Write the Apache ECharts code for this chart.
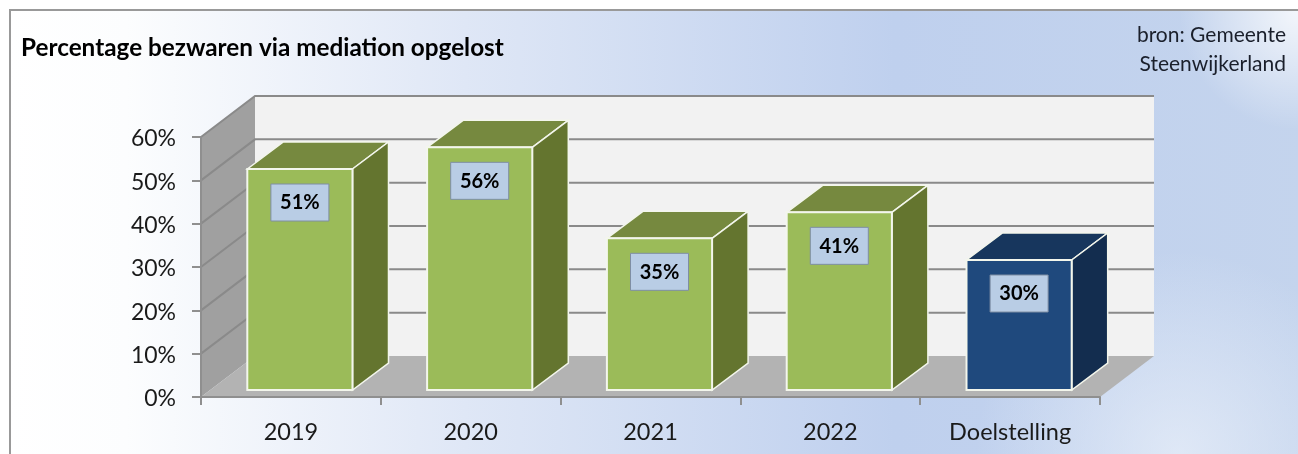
<!DOCTYPE html>
<html>
<head>
<meta charset="utf-8">
<style>html,body{margin:0;padding:0;background:#fff}#chart{width:1298px;height:454px}</style>
<script src="https://cdn.jsdelivr.net/npm/echarts@6/dist/echarts.min.js"></script>
</head>
<body>
<div id="chart"></div>
<script>
var categories = ['2019', '2020', '2021', '2022', 'Doelstelling'];
var values = [51, 56, 35, 41, 30];
var yTicks = [0, 10, 20, 30, 40, 50, 60];
var green = {front: '#9bbb59', side: '#64752f', top: '#76893f'};
var blue = {front: '#1f497d', side: '#132d4f', top: '#17365d'};
var barColors = [green, green, green, green, blue];

var myChart = echarts.init(document.getElementById('chart'));
var font = 'Lato';
var wallDx = 54, wallDy = -41;   // diepte van de wanden
var barDx = 36, barDy = -27;     // diepte van de balken
var barShiftX = 9, barShiftY = -7;

function poly(points, fill, stroke, z2) {
    return {
        type: 'polygon', z2: z2 || 0,
        shape: {points: points},
        style: {fill: fill, stroke: stroke || null, lineWidth: stroke ? 1.5 : 0}
    };
}

function renderWalls(params, api) {
    var cs = params.coordSys;
    var l = cs.x, r = cs.x + cs.width;
    var y = api.coord([0, api.value(1)])[1];
    var children = [];
    if (params.dataIndex === 0) {
        var t = cs.y, b = cs.y + cs.height;
        children.push(poly([[l + wallDx, t + wallDy], [r + wallDx, t + wallDy], [r + wallDx, b + wallDy], [l + wallDx, b + wallDy]], '#f2f2f2'));
        children.push(poly([[l, t], [l + wallDx, t + wallDy], [l + wallDx, b + wallDy], [l, b]], '#a0a0a0'));
        children.push(poly([[l, b], [l + wallDx, b + wallDy], [r + wallDx, b + wallDy], [r, b]], '#b3b3b3', null, 1));
    }
    if (params.dataIndex > 0) {
        children.push({
            type: 'polyline', z2: 2,
            shape: {points: [[l, y], [l + wallDx, y + wallDy], [r + wallDx, y + wallDy]]},
            style: {fill: null, stroke: '#8a8a8a', lineWidth: 2}
        });
    }
    return {type: 'group', children: children};
}

function renderBar(params, api) {
    var i = params.dataIndex;
    var c = barColors[i];
    var p = api.coord([api.value(0), api.value(1)]);
    var base = api.coord([api.value(0), 0]);
    var w = api.size([1, 0])[0] * 0.585;
    var x0 = p[0] + barShiftX - w / 2, x1 = x0 + w;
    var top = p[1] + barShiftY, bot = base[1] + barShiftY;
    var cx = (x0 + x1) / 2;
    var edge = '#f3f6ec';
    return {
        type: 'group',
        children: [
            poly([[x0, top], [x0 + barDx, top + barDy], [x1 + barDx, top + barDy], [x1, top]], c.top, edge, 1),
            poly([[x1, top], [x1 + barDx, top + barDy], [x1 + barDx, bot + barDy], [x1, bot]], c.side, edge, 1),
            {
                type: 'rect', z2: 2,
                shape: {x: x0, y: top, width: w, height: bot - top},
                style: {fill: c.front, stroke: edge, lineWidth: 2}
            },
            {
                type: 'rect', z2: 3,
                shape: {x: cx - 29, y: top + 15, width: 58, height: 37},
                style: {fill: '#b9cde5', stroke: '#7f8ea3', lineWidth: 1}
            },
            {
                type: 'text', z2: 4,
                style: {
                    x: cx, y: top + 34, text: api.value(1) + '%',
                    fill: '#000', font: 'bold 20px ' + font,
                    align: 'center', verticalAlign: 'middle'
                }
            }
        ]
    };
}

option = {
    backgroundColor: '#ffffff',
    animation: false,
    title: [
        {
            text: 'Percentage bezwaren via mediation opgelost',
            left: 16, top: 31,
            textStyle: {fontFamily: font, fontWeight: 'bold', fontSize: 24.3, color: '#000'}
        },
        {
            text: 'bron: Gemeente\nSteenwijkerland',
            left: 1286, top: 21,
            textAlign: 'right',
            padding: 0,
            textStyle: {fontFamily: font, fontWeight: 'normal', fontSize: 21, lineHeight: 29, color: '#1a1f2b'}
        }
    ],
    graphic: [
        {
            type: 'rect', z: -10, silent: true,
            shape: {x: 10, y: 10, width: 1300, height: 460},
            style: {
                fill: new echarts.graphic.LinearGradient(0, 0, 1, 0, [
                    {offset: 0, color: '#ffffff'},
                    {offset: 0.09, color: '#fcfdfe'},
                    {offset: 0.35, color: '#dfe7f6'},
                    {offset: 0.68, color: '#bfd0ee'},
                    {offset: 1, color: '#c4d4ed'}
                ]),
                stroke: '#999999', lineWidth: 2
            }
        },
        {
            type: 'rect', z: -9, silent: true,
            shape: {x: 1100, y: 11, width: 198, height: 200},
            style: {
                fill: new echarts.graphic.RadialGradient(1, 0, 0.6, [
                    {offset: 0, color: 'rgba(255,255,255,0.8)'},
                    {offset: 1, color: 'rgba(255,255,255,0)'}
                ])
            }
        },
        {
            type: 'rect', z: -9, silent: true,
            shape: {x: 700, y: 200, width: 598, height: 254},
            style: {
                fill: new echarts.graphic.RadialGradient(0.8, 1, 0.8, [
                    {offset: 0, color: 'rgba(235,241,250,0.7)'},
                    {offset: 1, color: 'rgba(235,241,250,0)'}
                ])
            }
        }
    ],
    grid: {left: 201, right: 198, top: 137, bottom: 57},
    xAxis: {
        type: 'category',
        data: categories,
        z: 5,
        axisLine: {show: true, lineStyle: {color: '#8f8f8f', width: 2}},
        axisTick: {show: true, length: 8, lineStyle: {color: '#8f8f8f', width: 2}},
        axisLabel: {margin: 23, fontFamily: font, fontSize: 23.5, color: '#1a1a1a'}
    },
    yAxis: {
        type: 'value',
        min: 0, max: 60, interval: 10,
        z: 5,
        axisLine: {show: true, lineStyle: {color: '#8f8f8f', width: 2}},
        axisTick: {show: true, length: 9, lineStyle: {color: '#8f8f8f', width: 2}},
        axisLabel: {
            margin: 25,
            formatter: '{a|{value}%}',
            rich: {a: {padding: [4, 0, 0, 0], fontFamily: font, fontSize: 23, color: '#1a1a1a'}}
        },
        splitLine: {show: false}
    },
    series: [
        {
            type: 'custom', name: 'wanden', z: 1, silent: true,
            renderItem: renderWalls,
            data: yTicks.map(function (t) { return [0, t]; })
        },
        {
            type: 'custom', name: 'percentage', z: 2, silent: true,
            renderItem: renderBar,
            data: categories.map(function (c, i) { return [i, values[i]]; })
        }
    ]
};

myChart.setOption(option);
</script>
</body>
</html>
